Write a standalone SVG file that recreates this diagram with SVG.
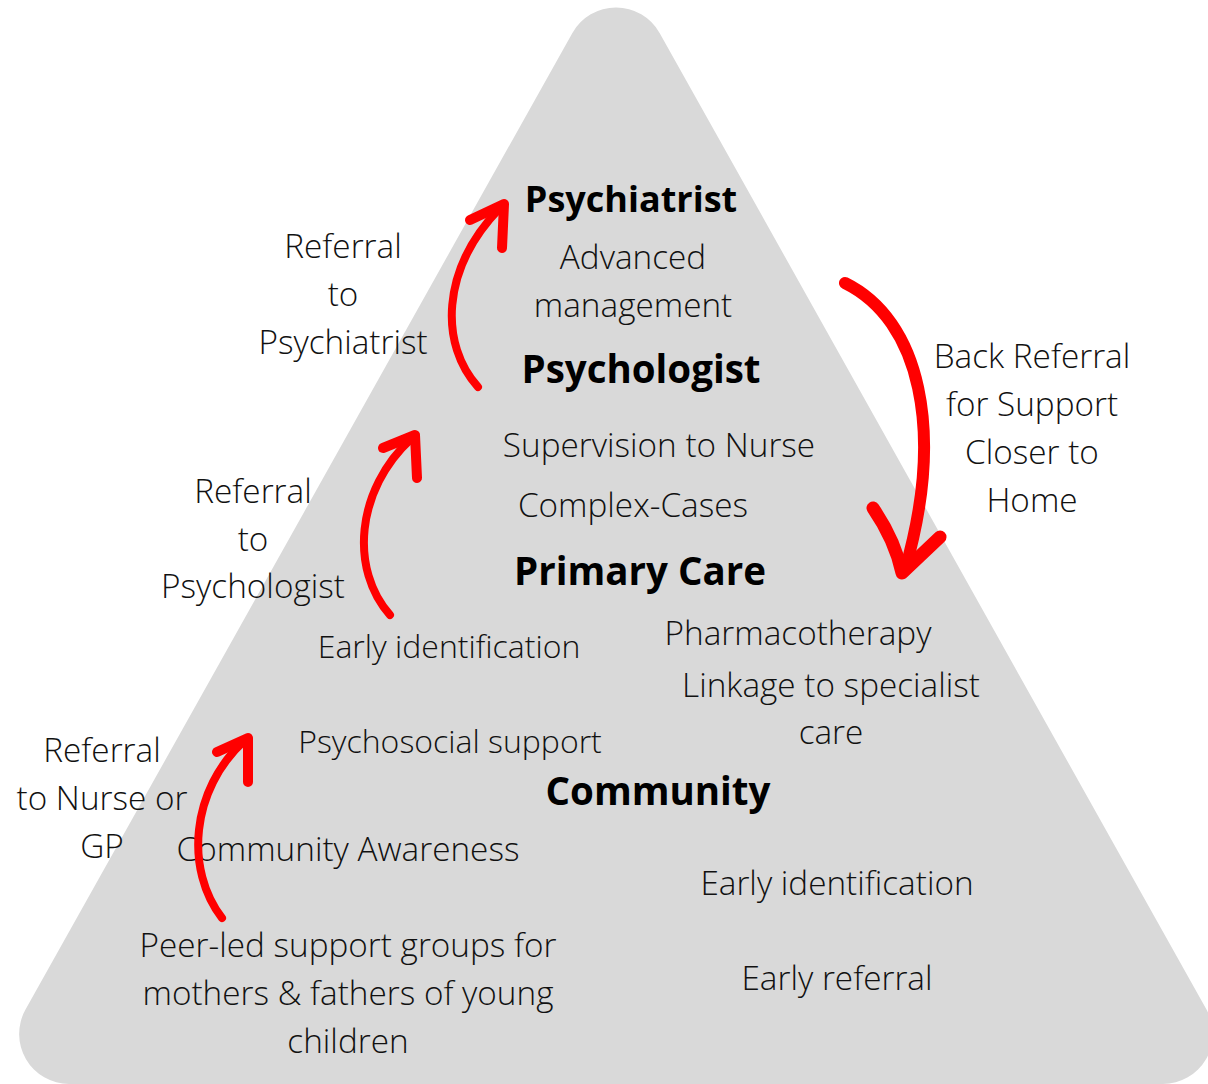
<svg xmlns="http://www.w3.org/2000/svg" width="1208" height="1084" viewBox="0 0 1208 1084">
  <style>
    .t { font-family: "Open Sans", "Liberation Sans", sans-serif; font-weight: 300; font-size: 33.3px; fill: #111; text-anchor: middle; }
    .s { font-size: 32px; }
    .h { font-family: "Open Sans", "Liberation Sans", sans-serif; font-weight: 700; font-size: 38.5px; fill: #000; text-anchor: middle; }
    .shaft { fill: none; stroke: #ff0000; stroke-width: 8; stroke-linecap: round; stroke-linejoin: round; }
    .head { fill: none; stroke: #ff0000; stroke-width: 10; stroke-linecap: round; stroke-linejoin: round; }
  </style>

  <!-- rounded pyramid background -->
  <g id="pyramid">
    <path d="M 572.4 32.9 A 50 50 0 0 1 659.6 32.9 L 1206.5 1009.6 A 50 50 0 0 1 1162.9 1084 L 69.1 1084 A 50 50 0 0 1 25.5 1009.6 Z" fill="#d9d9d9"/>
  </g>

  <!-- tier: psychiatrist -->
  <g id="tier-psychiatrist">
    <text class="h" x="631" y="212" style="font-size:36px">Psychiatrist</text>
    <text class="t" x="633" y="269">Advanced</text>
    <text class="t" x="633" y="317">management</text>
  </g>

  <!-- tier: psychologist -->
  <g id="tier-psychologist">
    <text class="h" x="641" y="383">Psychologist</text>
    <text class="t" x="659" y="457">Supervision to Nurse</text>
    <text class="t" x="633" y="517">Complex-Cases</text>
  </g>

  <!-- tier: primary care -->
  <g id="tier-primary-care">
    <text class="h" x="640" y="585">Primary Care</text>
    <text class="t s" x="449" y="658">Early identification</text>
    <text class="t" x="798" y="645">Pharmacotherapy</text>
    <text class="t" x="831" y="697">Linkage to specialist</text>
    <text class="t" x="831" y="744">care</text>
    <text class="t s" x="450" y="753">Psychosocial support</text>
  </g>

  <!-- tier: community -->
  <g id="tier-community">
    <text class="h" x="658" y="805">Community</text>
    <text class="t" x="348" y="861">Community Awareness</text>
    <text class="t" x="837" y="895">Early identification</text>
    <text class="t" x="837" y="990">Early referral</text>
    <text class="t" x="348" y="957">Peer-led support groups for</text>
    <text class="t" x="348" y="1005">mothers &amp; fathers of young</text>
    <text class="t" x="348" y="1053">children</text>
  </g>

  <!-- referral labels -->
  <g id="label-to-psychiatrist">
    <text class="t" x="343" y="258">Referral</text>
    <text class="t" x="343" y="306">to</text>
    <text class="t" x="343" y="354">Psychiatrist</text>
  </g>
  <g id="label-to-psychologist">
    <text class="t" x="253" y="503">Referral</text>
    <text class="t" x="253" y="551">to</text>
    <text class="t" x="253" y="598">Psychologist</text>
  </g>
  <g id="label-to-nurse">
    <text class="t" x="102" y="762">Referral</text>
    <text class="t" x="102" y="810">to Nurse or</text>
    <text class="t" x="102" y="858">GP</text>
  </g>
  <g id="label-back-referral">
    <text class="t" x="1032" y="368">Back Referral</text>
    <text class="t" x="1032" y="416">for Support</text>
    <text class="t" x="1032" y="464">Closer to</text>
    <text class="t" x="1032" y="512">Home</text>
  </g>

  <!-- brush-stroke referral arrows -->
  <g id="connectors">
    <g id="arrow-to-psychiatrist">
      <path class="shaft" d="M 478 387 C 440 345, 440 270, 500 208"/>
      <path class="head" d="M 470 220 L 504 204 L 502 248"/>
    </g>
    <g id="arrow-to-psychologist">
      <path class="shaft" d="M 390 615 C 350 570, 355 490, 412 438"/>
      <path class="head" d="M 383 448 L 415 435 L 417 478"/>
    </g>
    <g id="arrow-to-nurse">
      <path class="shaft" d="M 222 918 C 185 870, 190 790, 245 740"/>
      <path class="head" d="M 217 752 L 248 738 L 248 782"/>
    </g>
    <g id="arrow-back-referral">
      <path class="shaft" style="stroke-width:12" d="M 845 283 C 920 320, 945 430, 905 570"/>
      <path class="head" style="stroke-width:13" d="M 873 508 Q 895 540 902 573 L 940 537"/>
    </g>
  </g>
</svg>
